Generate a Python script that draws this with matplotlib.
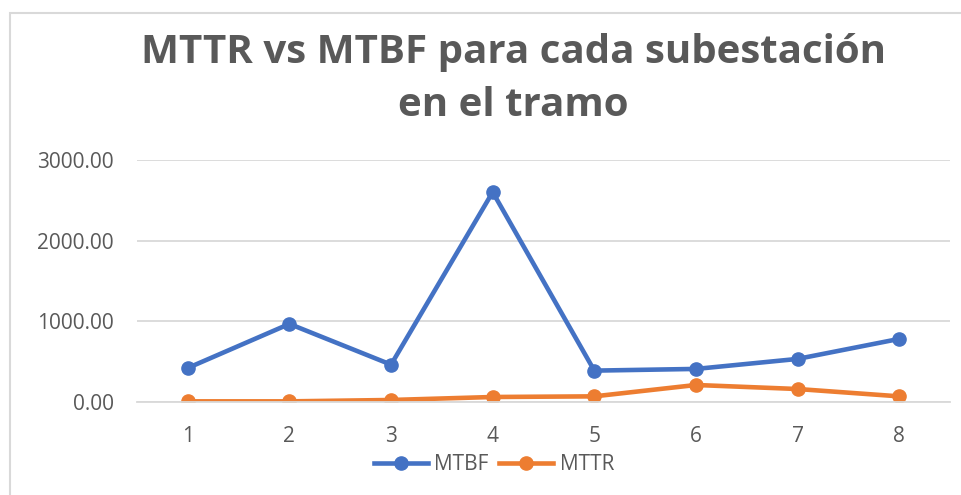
import matplotlib.pyplot as plt
from matplotlib.patches import Rectangle

# datos
subestaciones = [1, 2, 3, 4, 5, 6, 7, 8]
mtbf = [422, 968, 463, 2602, 389, 410, 534, 782]
mttr = [8, 8, 25, 62, 70, 211, 161, 70]
y_ticks = [0, 1000, 2000, 3000]

azul = "#4472C4"
naranja = "#ED7D31"
gris = "#595959"

plt.rcParams["font.family"] = ["Open Sans", "DejaVu Sans"]

fig = plt.figure(figsize=(9.62, 4.95), dpi=100)
ax = fig.add_axes([137 / 962, 1 - 402 / 495, (950 - 137) / 962, (402 - 160) / 495])

# borde del area del grafico
fig.patches.append(Rectangle((10 / 962, -0.1), 1.2, 1 - 13 / 495 + 0.1,
                             transform=fig.transFigure, fill=False,
                             edgecolor="#D9D9D9", linewidth=1.5))

ax.plot(subestaciones, mtbf, color=azul, linewidth=3.3, marker="o", markersize=9.5, label="MTBF")
ax.plot(subestaciones, mttr, color=naranja, linewidth=3.3, marker="o", markersize=9.5, label="MTTR")

ax.set_xlim(0.5, 8.5)
ax.set_ylim(0, 3000)
ax.set_yticks(y_ticks)
ax.set_yticklabels([f"{v:.2f}" for v in y_ticks])
ax.set_xticks(subestaciones)
ax.yaxis.grid(True, color="#D9D9D9", linewidth=1.3)
ax.set_axisbelow(True)
for s in ["top", "right", "left"]:
    ax.spines[s].set_visible(False)
ax.spines["bottom"].set_color("#D9D9D9")
ax.spines["bottom"].set_linewidth(1.3)
ax.tick_params(length=0, labelsize=15, colors=gris)
ax.tick_params(axis="x", pad=17)
ax.tick_params(axis="y", pad=16.5)

fig.text(0.534, 1 - 79 / 495, "MTTR vs MTBF para cada subestación\nen el tramo",
         ha="center", va="center", fontsize=29, fontweight="bold", color=gris,
         linespacing=1.5)

leg = ax.legend(loc="center", bbox_to_anchor=(0.439, -0.26), ncol=2, frameon=False,
                fontsize=15, handlelength=2.6, columnspacing=0.5, handletextpad=0.3)
for t in leg.get_texts():
    t.set_color(gris)

fig.savefig("out.png", dpi=100)
